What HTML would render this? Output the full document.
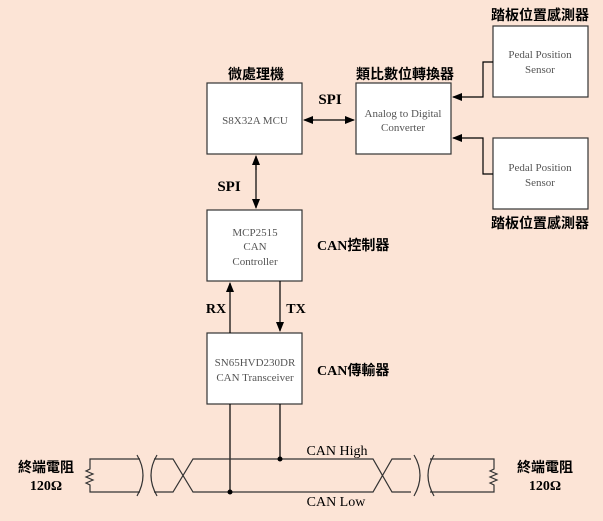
<!DOCTYPE html>
<html><head><meta charset="utf-8"><style>
html,body{margin:0;padding:0;background:#fce4d6;}
svg{display:block}
</style></head><body>
<svg width="603" height="521" viewBox="0 0 603 521" xmlns="http://www.w3.org/2000/svg">
<defs>
<marker id="a" markerWidth="10" markerHeight="8" refX="9" refY="4" orient="auto" markerUnits="userSpaceOnUse"><path d="M0,0 L10,4 L0,8 z" fill="#000"/></marker>
</defs>
<rect width="603" height="521" fill="#fce4d6"/>
<g fill="#fff" stroke="#333" stroke-width="1.2">
<rect x="207" y="83" width="95" height="71"/>
<rect x="356" y="83" width="95" height="71"/>
<rect x="493" y="26" width="95" height="71"/>
<rect x="493" y="138" width="95" height="71"/>
<rect x="207" y="210" width="95" height="71"/>
<rect x="207" y="333" width="95" height="71"/>
</g>
<g font-family="Liberation Serif, serif" font-size="11" fill="#555" text-anchor="middle">
<text x="255" y="124">S8X32A MCU</text>
<text x="403" y="117">Analog to Digital</text>
<text x="403" y="131">Converter</text>
<text x="540" y="58">Pedal Position</text>
<text x="540" y="73">Sensor</text>
<text x="540" y="171">Pedal Position</text>
<text x="540" y="186">Sensor</text>
<text x="255" y="236">MCP2515</text>
<text x="255" y="250">CAN</text>
<text x="255" y="265">Controller</text>
<text x="255" y="366">SN65HVD230DR</text>
<text x="255" y="381">CAN Transceiver</text>
</g>
<g font-family="Liberation Serif, 'Noto Sans CJK TC', sans-serif" font-weight="bold" fill="#000">
<text x="256" y="79" font-size="14" text-anchor="middle">微處理機</text>
<text x="405" y="79" font-size="14" text-anchor="middle">類比數位轉換器</text>
<text x="540" y="20" font-size="14" text-anchor="middle">踏板位置感測器</text>
<text x="540" y="228" font-size="14" text-anchor="middle">踏板位置感測器</text>
<text x="317" y="250" font-size="14">CAN控制器</text>
<text x="317" y="375" font-size="14">CAN傳輸器</text>
<text x="330" y="104" font-size="15" text-anchor="middle">SPI</text>
<text x="229" y="191" font-size="15" text-anchor="middle">SPI</text>
<text x="216" y="313" font-size="14" text-anchor="middle">RX</text>
<text x="296" y="313" font-size="14" text-anchor="middle">TX</text>
<text x="46" y="472" font-size="14" text-anchor="middle">終端電阻</text>
<text x="46" y="490" font-size="14" text-anchor="middle">120Ω</text>
<text x="545" y="472" font-size="14" text-anchor="middle">終端電阻</text>
<text x="545" y="490" font-size="14" text-anchor="middle">120Ω</text>
</g>
<g font-family="Liberation Serif, serif" font-size="14" fill="#000" text-anchor="middle">
<text x="337" y="455">CAN High</text>
<text x="336" y="506">CAN Low</text>
</g>
<g stroke="#000" stroke-width="1.2" fill="none">
<line x1="314" y1="120" x2="304" y2="120" marker-end="url(#a)"/>
<line x1="310" y1="120" x2="354" y2="120" marker-end="url(#a)"/>
<polyline points="493,62 483,62 483,97 453,97" marker-end="url(#a)"/>
<polyline points="493,174 483,174 483,138 453,138" marker-end="url(#a)"/>
<line x1="256" y1="170" x2="256" y2="156" marker-end="url(#a)"/>
<line x1="256" y1="165" x2="256" y2="208" marker-end="url(#a)"/>
<line x1="230" y1="333" x2="230" y2="283" marker-end="url(#a)"/>
<line x1="280" y1="281" x2="280" y2="331" marker-end="url(#a)"/>
<line x1="230" y1="404" x2="230" y2="491"/>
<line x1="280" y1="404" x2="280" y2="460"/>
</g>
<g stroke="#333" stroke-width="1.2" fill="none">
<polyline points="140,459 90,459 90,469 86,471 93,474 86,477 93,480 86,483 90,485 90,492 140,492"/>
<path d="M137,455 Q149,475 137,496"/>
<path d="M157,455 Q145,475 157,496"/>
<polyline points="154,459 173,459 193,492 373,492 392,459 411,459"/>
<polyline points="154,492 173,492 193,459 373,459 392,492 411,492"/>
<path d="M414,455 Q426,475 414,496"/>
<path d="M434,455 Q422,475 434,496"/>
<polyline points="430,459 494,459 494,469 490,471 497,474 490,477 497,480 490,483 494,485 494,492 430,492"/>
</g>
<circle cx="280" cy="459" r="2.5" fill="#000"/>
<circle cx="230" cy="492" r="2.5" fill="#000"/>
</svg>
</body></html>
